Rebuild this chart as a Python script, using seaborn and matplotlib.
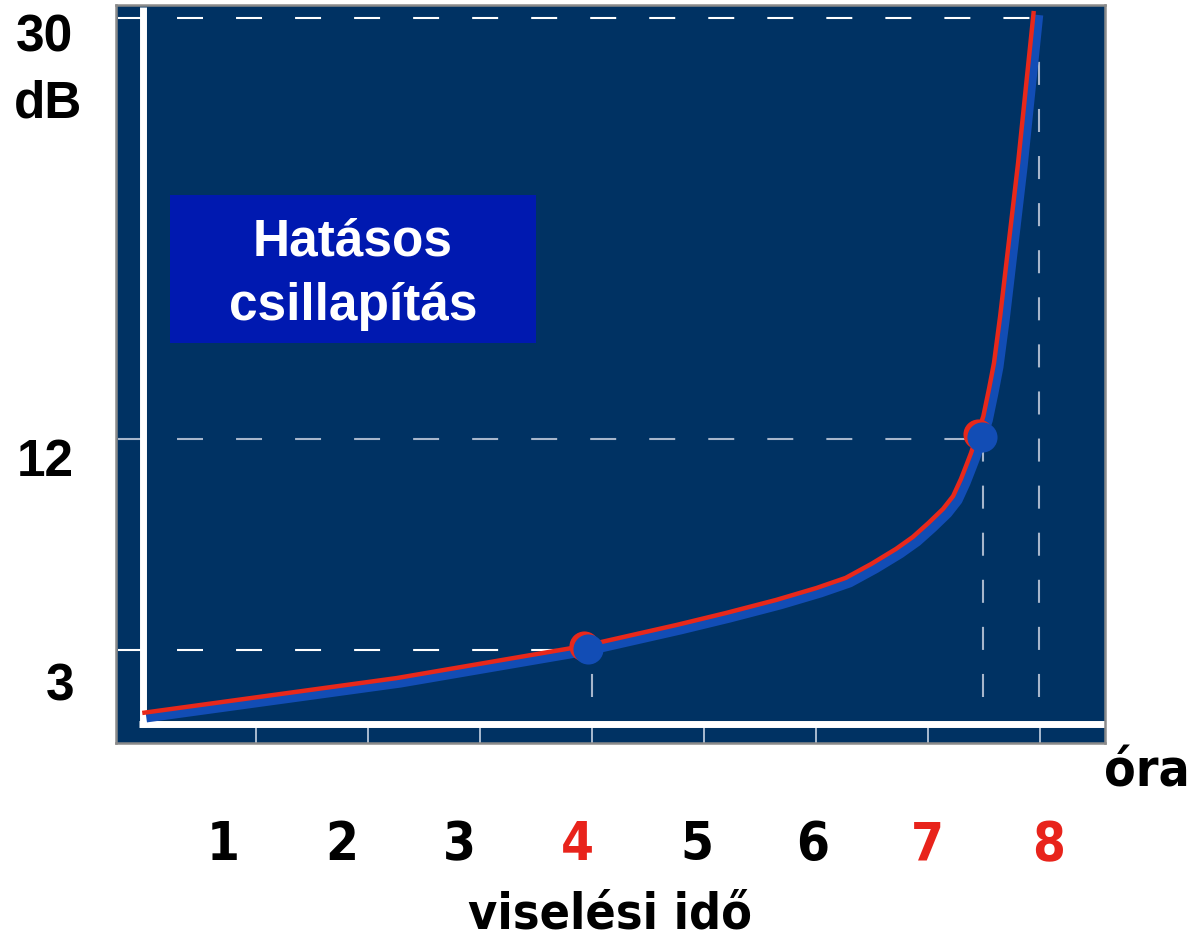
import numpy as np
import pandas as pd
import matplotlib
matplotlib.use("Agg")
import matplotlib.pyplot as plt
import matplotlib.transforms as mtransforms
from matplotlib import font_manager
from matplotlib.font_manager import FontProperties
from matplotlib.patches import Rectangle
import seaborn as sns

# ---------------- data ----------------
hours = [0.02, 2.29, 3.96, 4.79, 5.23, 5.68, 6.04, 6.30, 6.53, 6.75, 6.90,
         7.04, 7.17, 7.26, 7.33, 7.375, 7.42, 7.48, 7.53, 7.58, 7.625, 7.68,
         7.84, 7.98]
attenuation_db = [0.13, 1.62, 2.99, 3.89, 4.40, 4.96, 5.47, 5.90, 6.50, 7.14,
                  7.65, 8.25, 8.85, 9.40, 10.13, 10.68, 11.24, 12.09, 12.82,
                  13.97, 15.09, 17.09, 23.63, 30.13]
marked_hours = [3.96, 7.48]
marked_db = [3.05, 12.1]
guide_db = [3, 12, 30]
guide_hours = [4.0, 7.49, 7.99]
y_tick_labels = ["3", "12", "30"]
x_tick_hours = [1, 2, 3, 4, 5, 6, 7, 8]
x_labels = ["1", "2", "3", "4", "5", "6", "7", "8"]
red_labels = ["4", "7", "8"]
box_lines = ["Hatásos", "csillapítás"]
x_title = "viselési idő"
x_unit = "óra"
y_unit = "dB"

# ---------------- style ----------------
sns.set_style("white")
plt.rcParams["lines.scale_dashes"] = False
names = {f.name for f in font_manager.fontManager.ttflist}
wide = "Liberation Sans" if "Liberation Sans" in names else "DejaVu Sans"
plt.rcParams["font.family"] = [wide, "DejaVu Sans"]


def find_narrow_bold():
    files = [f.fname for f in font_manager.fontManager.ttflist]
    prefs = ["liberationsansnarrow-bold.", "liberation sans narrow bold",
             "arialnb", "arial narrow bold", "dejavusanscondensed-bold.",
             "notosans-condensedbold", "roboto_condensed-bold",
             "robotocondensed-bold"]
    low = [(p, p.lower().replace("\\", "/").split("/")[-1]) for p in files]
    for key in prefs:
        for p, b in low:
            if key in b:
                return p
    for p, b in low:
        if ("narrow" in b or "condensed" in b) and "bold" in b and \
                "italic" not in b and "oblique" not in b and "semi" not in b \
                and "extra" not in b:
            return p
    return None


narrow_path = find_narrow_bold()


def narrow_fp(size):
    if narrow_path:
        return FontProperties(fname=narrow_path, size=size)
    return FontProperties(family=[wide, "DejaVu Sans"], weight="bold",
                          size=size * 0.88)


NAVY = "#003263"
BOX = "#0019B0"
BLUE = "#124DB5"
RED = "#E8281A"
LRED = "#E8231B"
GRIDW = "#FFFFFF"
GRIDG = "#A7B6CB"

W, H = 1192, 938
fig = plt.figure(figsize=(W / 100, H / 100), dpi=100)
fig.patch.set_facecolor("white")


def X(px):
    return (px - 144) / 112.0


def Y(py):
    return (720 - py) / 23.4


ax = fig.add_axes([116 / W, 1 - 743 / H, (1105 - 116) / W, (743 - 5) / H])
ax.set_facecolor(NAVY)
for s in ax.spines.values():
    s.set_color("#8A8A8A")
    s.set_linewidth(1.8)
ax.grid(False)

# white axis lines
ax.axvline(X(142.5), ymin=(743 - 727) / 738, ymax=(743 - 7) / 738,
           color="white", lw=5, zorder=2, solid_capstyle="butt")
ax.axhline(Y(723.5), xmin=(139 - 116) / 989, xmax=1, color="white", lw=5,
           zorder=2, solid_capstyle="butt")

# dashed guide lines
hcolors = [GRIDW, GRIDG, GRIDW]
for d, h, c in zip(guide_db, guide_hours, hcolors):
    ax.plot([X(118), h], [d, d], color=c, lw=1.5,
            linestyle=(0, (18.7, 23.8)), zorder=1.5)
    ax.plot([h, h], [Y(697), d], color=GRIDG, lw=1.5,
            linestyle=(0, (16.6, 17.3)), zorder=1.5)

# curve
df = pd.DataFrame({"hours": hours, "db": attenuation_db})
red_tr = mtransforms.offset_copy(ax.transData, fig=fig, x=-4, y=4, units="dots")
red_pt_tr = mtransforms.offset_copy(ax.transData, fig=fig, x=-4, y=3, units="dots")
sns.lineplot(data=df, x="hours", y="db", ax=ax, color=BLUE, lw=7.9,
             sort=False, zorder=3, solid_capstyle="butt", solid_joinstyle="round")
sns.lineplot(data=df, x="hours", y="db", ax=ax, color=RED, lw=3.2,
             sort=False, zorder=4, transform=red_tr, solid_capstyle="butt",
             solid_joinstyle="round")
pts = pd.DataFrame({"hours": marked_hours, "db": marked_db})
sns.scatterplot(data=pts, x="hours", y="db", ax=ax, color=RED, s=470,
                linewidth=0, zorder=5, transform=red_pt_tr)
sns.scatterplot(data=pts, x="hours", y="db", ax=ax, color=BLUE, s=470,
                linewidth=0, zorder=6)
ax.set_xlabel("")
ax.set_ylabel("")
ax.set_xlim(X(116), X(1105))
ax.set_ylim(Y(743), Y(5))
ax.set_xticks(x_tick_hours)
ax.set_xticklabels([])
ax.set_yticks([])
ax.tick_params(axis="x", direction="in", length=11.5, width=1.4,
               color="#A9BBD0", bottom=True)

# box with text
fig.patches.append(Rectangle((170 / W, 1 - 343 / H), (536 - 170) / W,
                             (343 - 195) / H, transform=fig.transFigure,
                             facecolor=BOX, edgecolor="none", zorder=3))
fig.text(353 / W, 1 - 255 / H, box_lines[0], color="white", fontsize=37,
         fontweight="bold", ha="center", va="baseline", zorder=4)
fig.text(353 / W, 1 - 320 / H, box_lines[1], color="white", fontsize=37,
         fontweight="bold", ha="center", va="baseline", zorder=4)

# y labels
ylab_pos = {"30": (44, 51), "12": (45, 476), "3": (60, 700)}
for lab in y_tick_labels:
    px, py = ylab_pos[lab]
    fig.text(px / W, 1 - py / H, lab, fontsize=37, fontweight="bold",
             ha="center", va="baseline", color="black")
fig.text(48 / W, 1 - 118 / H, y_unit, fontsize=37, fontweight="bold",
         ha="center", va="baseline", color="black")

# x labels
xlab_px = [223, 342, 459, 577, 697, 813, 927, 1049]
for lab, px in zip(x_labels, xlab_px):
    fig.text(px / W, 1 - 860 / H, lab, fontproperties=narrow_fp(38),
             ha="center", va="baseline",
             color=LRED if lab in red_labels else "black")
fig.text(610 / W, 1 - 928 / H, x_title, fontproperties=narrow_fp(36),
         ha="center", va="baseline", color="black")
fig.text(1147 / W, 1 - 786 / H, x_unit, fontproperties=narrow_fp(37),
         ha="center", va="baseline", color="black")

fig.savefig("out.png", dpi=100, facecolor="white")
